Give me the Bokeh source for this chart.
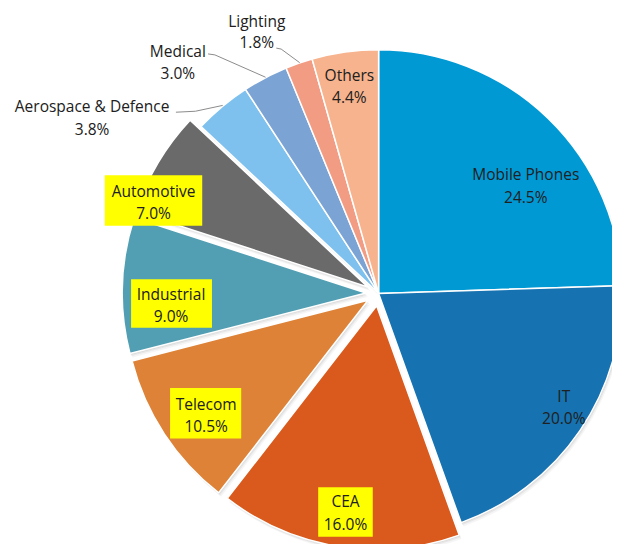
import numpy as np
from bokeh.plotting import figure
from bokeh.models import Range1d
from bokeh.embed import file_html
from bokeh.resources import INLINE
from bokeh.core.properties import value

# ---------------- data ----------------
categories = ["Mobile Phones", "IT", "CEA", "Telecom", "Industrial", "Automotive",
              "Aerospace & Defence", "Medical", "Lighting", "Others"]
shares = [24.5, 20.0, 16.0, 10.5, 9.0, 7.0, 3.8, 3.0, 1.8, 4.4]
exploded = [False, False, True, True, True, True, False, False, False, False]

# ---------------- style ----------------
colors = ["#0099D4", "#1672B0", "#D95A1C", "#DD8237", "#529FB4", "#6A6A6A",
          "#7EC1EE", "#7BA3D4", "#F29C84", "#F7B38D"]
FONT = "Open Sans"
FS = "15.5px"
TXT = "#202020"

W, H = 612, 544
def Y(py):  # convert reference pixel row to data y
    return 560 - py

CX, CY, R, EXPL = 388, Y(301.5), 250, 13

# label layout (reference pixel coords): (x, y line1, y line2)
label_pos = {
    "Mobile Phones": (539, 179, 202),
    "IT": (578, 407, 430),
    "CEA": (354, 515, 539),
    "Telecom": (211, 415, 438),
    "Industrial": (175, 302, 325),
    "Automotive": (157, 196, 219),
    "Aerospace & Defence": (94, 109, 132),
    "Medical": (182, 52, 75),
    "Lighting": (263, 21, 43),
    "Others": (358, 77, 99),
}
box_pos = {
    "CEA": (326, 382, 501, 552),
    "Telecom": (174, 247, 399, 451),
    "Industrial": (134, 217, 287, 337),
    "Automotive": (107, 207, 180, 232),
}
leaders = {
    "Aerospace & Defence": [(180, 115), (200, 114), (228, 108)],
    "Medical": [(213, 55), (220, 56), (272, 79)],
    "Lighting": [(283, 49), (288, 50), (307, 64)],
}

# ---------------- geometry from values ----------------
vals = np.array(shares, dtype=float)
frac = vals / vals.sum()
cum_end = np.cumsum(frac)
cum_start = cum_end - frac
start_ang = np.pi / 2 - 2 * np.pi * cum_end
end_ang = np.pi / 2 - 2 * np.pi * cum_start
mid_ang = (start_ang + end_ang) / 2
off = np.array([EXPL if e else 0 for e in exploded], dtype=float)
xs = CX + off * np.cos(mid_ang)
ys = CY + off * np.sin(mid_ang)

p = figure(width=W, height=H, output_backend="svg", toolbar_location=None,
           x_range=Range1d(0, 628), y_range=Range1d(0, 560),
           min_border=0, outline_line_color=None, background_fill_color="white",
           border_fill_color="white")
p.axis.visible = False
p.grid.visible = False

# soft shadow
for k, a in [(4.0, 0.08), (2.5, 0.12), (1.2, 0.15)]:
    p.wedge(x=list(xs + k * 0.6), y=list(ys - k), radius=R,
            start_angle=list(start_ang), end_angle=list(end_ang),
            fill_color="#808080", fill_alpha=a, line_color=None)

p.wedge(x=list(xs), y=list(ys), radius=R,
        start_angle=list(start_ang), end_angle=list(end_ang),
        fill_color=colors, line_color="white", line_width=1.5)

# leader lines
for name, pts in leaders.items():
    p.line([q[0] for q in pts], [Y(q[1]) for q in pts], line_color="#8C8C8C", line_width=1)

# yellow boxes
for name, (x0, x1, y0, y1) in box_pos.items():
    p.quad(left=x0, right=x1, top=Y(y0), bottom=Y(y1), fill_color="#FFFF00", line_color=None)

# labels
for name, v in zip(categories, shares):
    lx, ly1, ly2 = label_pos[name]
    p.text(x=[lx, lx], y=[Y(ly1), Y(ly2)], text=[name, f"{v:.1f}%"],
           text_font=value(FONT), text_font_size=FS, text_color=TXT,
           text_align="center", text_baseline="middle")

open("out.html", "w").write(file_html(p, INLINE))
